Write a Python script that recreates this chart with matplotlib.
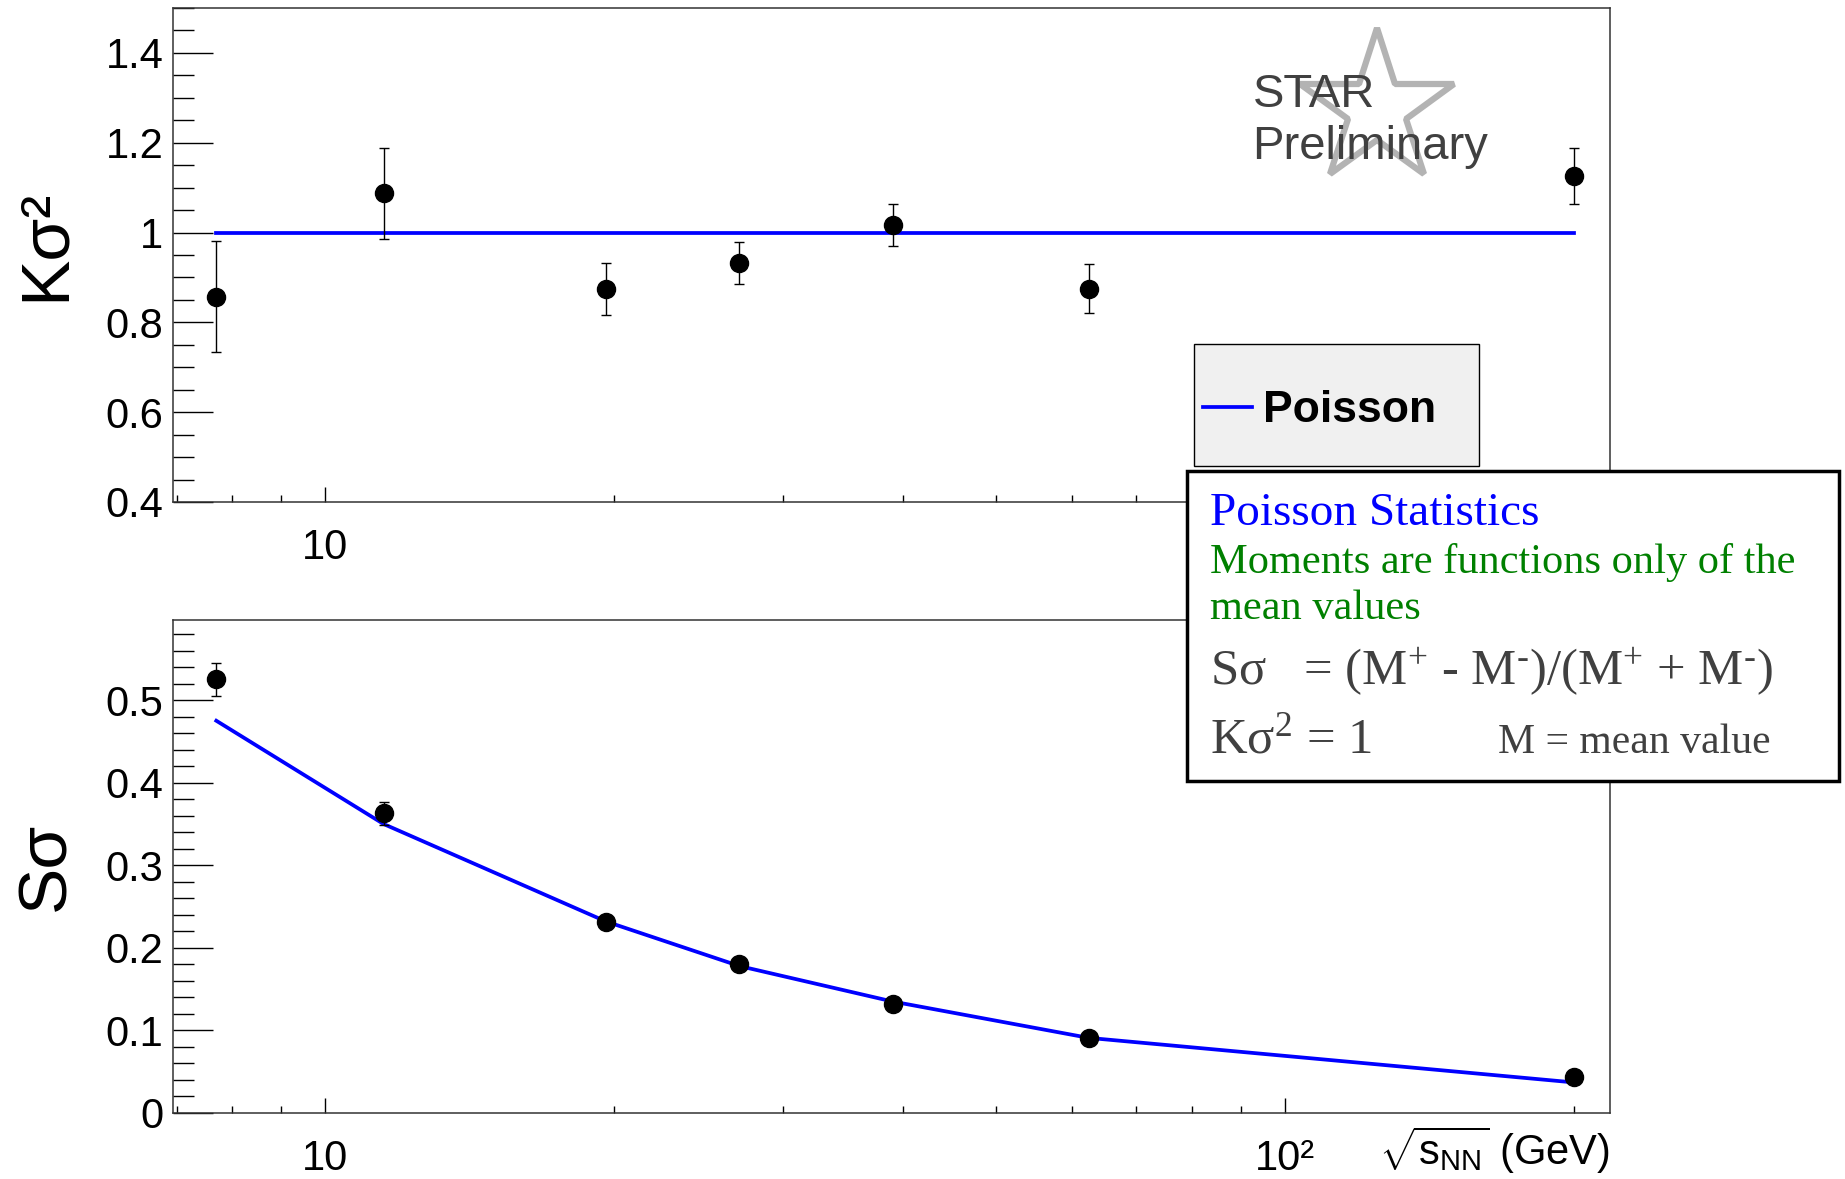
import matplotlib
matplotlib.use('Agg')
import matplotlib.pyplot as plt
from matplotlib.patches import Rectangle
from matplotlib.ticker import FixedLocator, MultipleLocator, LogLocator, NullFormatter, FuncFormatter

plt.rcParams['font.family'] = ['Liberation Sans', 'DejaVu Sans']
plt.rcParams['mathtext.fontset'] = 'custom'
plt.rcParams['mathtext.rm'] = 'Liberation Serif'
plt.rcParams['mathtext.it'] = 'Liberation Serif:italic'
plt.rcParams['mathtext.sf'] = 'Liberation Sans'

# datos
energy = [7.7, 11.5, 19.6, 27, 39, 62.4, 200]
kurt = [0.857, 1.087, 0.875, 0.933, 1.016, 0.875, 1.126]
kurt_err = [0.124, 0.102, 0.058, 0.047, 0.047, 0.055, 0.062]
poisson_kurt = [1, 1, 1, 1, 1, 1, 1]
skew = [0.525, 0.363, 0.231, 0.181, 0.132, 0.091, 0.043]
skew_err = [0.020, 0.014, 0.006, 0.005, 0.004, 0.004, 0.003]
poisson_skew = [0.475, 0.350, 0.232, 0.178, 0.135, 0.091, 0.037]
xtick_vals = [10, 100]
xtick_labels = ['10', '10²']

W, H = 1845, 1179
fig = plt.figure(figsize=(W / 100, H / 100), dpi=100)
ax1 = fig.add_axes([173 / W, 1 - 502 / H, 1437 / W, 494 / H])
ax2 = fig.add_axes([173 / W, 1 - 1113 / H, 1437 / W, 493 / H])

fmt = FuncFormatter(lambda v, p: f'{v:g}')
for ax in (ax1, ax2):
    ax.set_xscale('log')
    ax.set_xlim(6.94, 218)
    ax.xaxis.set_major_locator(FixedLocator(xtick_vals))
    ax.xaxis.set_minor_locator(LogLocator(base=10, subs=range(2, 10), numticks=20))
    ax.xaxis.set_minor_formatter(NullFormatter())
    ax.yaxis.set_major_formatter(fmt)
    ax.tick_params(axis='y', which='major', direction='in', length=29, width=1, labelsize=30, pad=7)
    ax.tick_params(axis='y', which='minor', direction='in', length=15, width=1)
    ax.tick_params(axis='x', which='major', direction='in', length=11, width=1, labelsize=30, pad=19)
    ax.tick_params(axis='x', which='minor', direction='in', length=5, width=1)
    for s in ax.spines.values():
        s.set_linewidth(1.1)
        s.set_color('#333333')
# en el panel superior la etiqueta 10^2 queda tapada por el cuadro
ax1.set_xticklabels([xtick_labels[0], ''])
ax2.set_xticklabels(xtick_labels)

# panel superior
ax1.set_ylim(0.4, 1.5)
ax1.yaxis.set_major_locator(MultipleLocator(0.2))
ax1.yaxis.set_minor_locator(MultipleLocator(0.05))
ax1.plot(energy, poisson_kurt, color='#0000ff', lw=2.7, label='Poisson', zorder=2)
ax1.errorbar(energy, kurt, yerr=kurt_err, fmt='o', color='black', ms=13,
             elinewidth=1, capsize=3.5, capthick=1, zorder=3)
ax1.set_ylabel('Kσ²', fontsize=50)
ax1.yaxis.set_label_coords(-0.066, 0.52)

ax1.plot([0.8379], [0.7955], marker='*', ms=116, mfc='none', mec='#b3b3b3', mew=4.5,
         transform=ax1.transAxes, zorder=1)
ax1.text(0.7512, 0.800, 'STAR', transform=ax1.transAxes, fontsize=34, color='#404040', va='baseline')
ax1.text(0.7512, 0.6937, 'Preliminary', transform=ax1.transAxes, fontsize=34, color='#404040', va='baseline')

ax1.add_patch(Rectangle((0.7105, 0.0729), 0.1983, 0.2469, transform=ax1.transAxes,
                        fc='#f0f0f0', ec='black', lw=1, zorder=5))
leg = ax1.legend(loc='center left', bbox_to_anchor=(0.7168, 0.185), frameon=False,
                 prop={'weight': 'bold', 'size': 32}, handlelength=1.1, handletextpad=0.26,
                 borderpad=0, borderaxespad=0)
leg.set_zorder(6)

# panel inferior
ax2.set_ylim(0, 0.597)
ax2.yaxis.set_major_locator(MultipleLocator(0.1))
ax2.yaxis.set_minor_locator(MultipleLocator(0.02))
ax2.plot(energy, poisson_skew, color='#0000ff', lw=2.7, zorder=2)
ax2.errorbar(energy, skew, yerr=skew_err, fmt='o', color='black', ms=13,
             elinewidth=1, capsize=3.5, capthick=1, zorder=3)
ax2.set_ylabel('Sσ', fontsize=50)
ax2.yaxis.set_label_coords(-0.066, 0.5)
ax2.set_xlabel(r'$\sqrt{\mathsf{s}_{\mathsf{NN}}}$ (GeV)', fontsize=30, loc='right')
ax2.xaxis.set_label_coords(1.0, -0.022)

# cuadro de texto
fig.add_artist(Rectangle((1187 / W, 1 - 781 / H), 652 / W, 310 / H, transform=fig.transFigure,
                         fc='white', ec='black', lw=2.5, zorder=10))
serif = 'Liberation Serif'
fig.text(1210 / W, 1 - 525 / H, 'Poisson Statistics', color='#0000ff', fontsize=34,
         family=serif, va='baseline', zorder=11)
fig.text(1210 / W, 1 - 573 / H, 'Moments are functions only of the', color='#008000', fontsize=30.5,
         family=serif, va='baseline', zorder=11)
fig.text(1210 / W, 1 - 619 / H, 'mean values', color='#008000', fontsize=30.5,
         family=serif, va='baseline', zorder=11)
fig.text(1210 / W, 1 - 684 / H, r'Sσ   = (M$^{+}$ - M$^{\text{-}}$)/(M$^{+}$ + M$^{\text{-}}$)',
         color='#404040', fontsize=36.5, family=serif, va='baseline', zorder=11)
fig.text(1210 / W, 1 - 753 / H, 'Kσ$^{2}$ = 1', color='#404040', fontsize=36.5,
         family=serif, va='baseline', zorder=11)
fig.text(1498 / W, 1 - 753 / H, 'M = mean value', color='#404040', fontsize=30,
         family=serif, va='baseline', zorder=11)

fig.savefig('out.png', dpi=100)
